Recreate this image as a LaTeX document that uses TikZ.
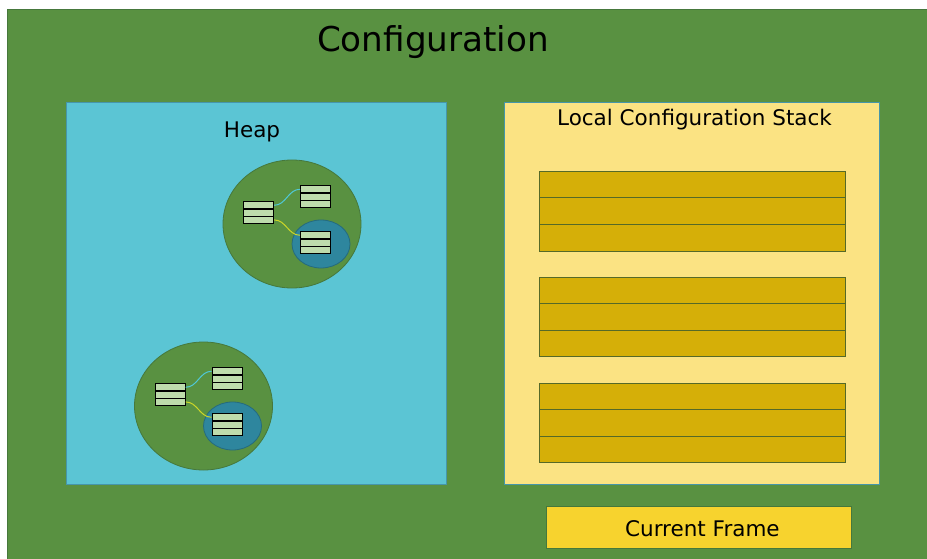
\documentclass[tikz,border=0pt]{standalone}
\usepackage{fontspec}
\setmainfont{DejaVu Sans}
\usetikzlibrary{positioning,shapes.geometric}
\definecolor{bggreen}{RGB}{89,145,65}
\definecolor{bgedge}{RGB}{70,120,60}
\definecolor{heapblue}{RGB}{91,197,212}
\definecolor{heapedge}{RGB}{70,150,170}
\definecolor{innerteal}{RGB}{46,134,158}
\definecolor{stackyellow}{RGB}{251,227,131}
\definecolor{rowyellow}{RGB}{213,175,8}
\definecolor{rowedge}{RGB}{85,105,40}
\definecolor{frameyellow}{RGB}{247,211,46}
\definecolor{cellgreen}{RGB}{190,220,172}
\definecolor{linkcyan}{RGB}{80,200,215}
\definecolor{linkyellow}{RGB}{205,215,40}
\tikzset{
  region/.style={draw=heapedge, line width=1pt, inner sep=0pt, anchor=north west},
  stackrow/.style={draw=rowedge, line width=0.8pt, fill=rowyellow, minimum width=306pt, minimum height=26.5pt, inner sep=0pt, anchor=north west},
  objcell/.style={draw=black, line width=1.2pt, fill=cellgreen, minimum width=30pt, minimum height=7.33pt, inner sep=0pt, anchor=north west},
  blob/.style={ellipse, draw=bgedge, line width=0.8pt, fill=bggreen, inner sep=0pt},
  innerblob/.style={ellipse, draw=innerteal!80!black, line width=0.8pt, fill=innerteal, inner sep=0pt},
  link/.style={line width=1pt, out=0, in=180},
  pics/cluster/.style={code={
    \node[blob, minimum width=138pt, minimum height=128pt] (-outer) at (0,0) {};
    \node[innerblob, minimum width=58pt, minimum height=48pt] (-inner) at (29,20) {};
    % object A: three stacked cells
    \node[objcell] (-a1) at (-49,-23) {};
    \node[objcell] (-a2) at (-49,-15.67) {};
    \node[objcell] (-a3) at (-49,-8.33) {};
    % object B
    \node[objcell] (-b1) at (8,-39) {};
    \node[objcell] (-b2) at (8,-31.67) {};
    \node[objcell] (-b3) at (8,-24.33) {};
    % object C (inside the inner region)
    \node[objcell] (-c1) at (8,7) {};
    \node[objcell] (-c2) at (8,14.33) {};
    \node[objcell] (-c3) at (8,21.67) {};
    \draw[link, linkcyan] (-a1.east) to (-b1.west);
    \draw[link, linkyellow] (-a3.east) to (-c1.west);
  }}
}
\begin{document}
\begin{tikzpicture}[x=1pt, y=-1pt]
\useasboundingbox (0,0) rectangle (927,559);
% outer configuration area
\node[draw=bgedge, fill=bggreen, line width=0.8pt, inner sep=0pt, anchor=north west,
      minimum width=940pt, minimum height=560pt] (config) at (7,9) {};
\node[font=\fontsize{34.2}{40}\selectfont] (title) at (433,42.5) {Configuration};
% heap
\node[region, fill=heapblue, minimum width=380pt, minimum height=382pt] (heap) at (66,102) {};
\node[font=\fontsize{21.5}{25}\selectfont] (heaplabel) at (252,132) {Heap};
\pic (h1) at (292,224) {cluster};
\pic (h2) at (203.5,406) {cluster};
% local configuration stack
\node[region, fill=stackyellow, minimum width=375pt, minimum height=382pt] (stack) at (504,102) {};
\node[font=\fontsize{21.5}{25}\selectfont] (stacklabel) at (694.5,119.5) {Local Configuration Stack};
\node[stackrow] (r11) at (539,171) {};
\node[stackrow] (r12) at (539,197.5) {};
\node[stackrow] (r13) at (539,224) {};
\node[stackrow] (r21) at (539,276.5) {};
\node[stackrow] (r22) at (539,303) {};
\node[stackrow] (r23) at (539,329.5) {};
\node[stackrow] (r31) at (539,382.5) {};
\node[stackrow] (r32) at (539,409) {};
\node[stackrow] (r33) at (539,435.5) {};
% current frame
\node[draw=bgedge, line width=0.8pt, fill=frameyellow, inner sep=0pt, anchor=north west,
      minimum width=305pt, minimum height=42pt] (frame) at (546,506) {};
\node[font=\fontsize{21.5}{25}\selectfont] (framelabel) at ([xshift=3.5pt,yshift=-1.5pt]frame.center) {Current Frame};
\end{tikzpicture}
\end{document}
